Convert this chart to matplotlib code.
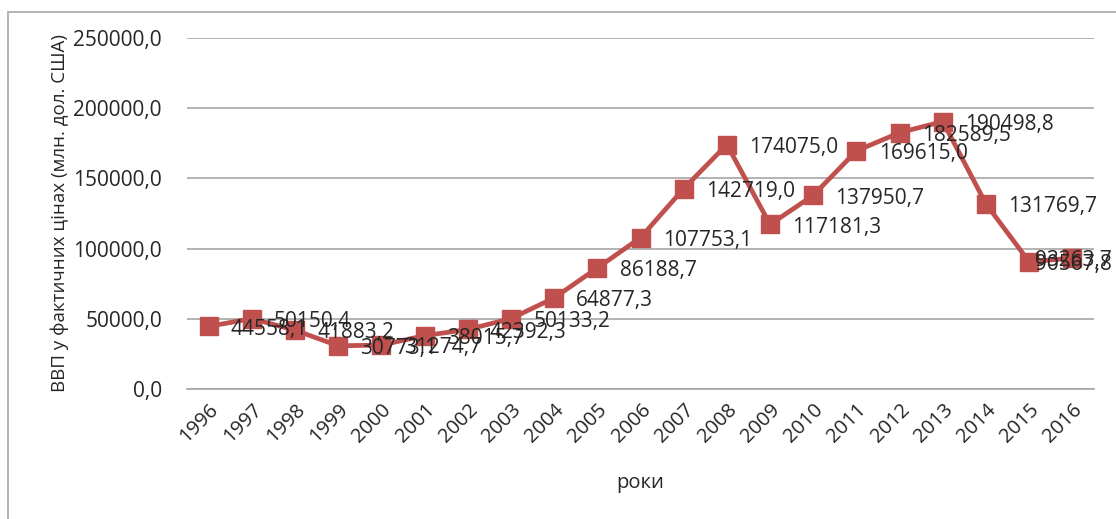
import matplotlib
matplotlib.use("Agg")
import matplotlib.pyplot as plt
from matplotlib.patches import Rectangle
from matplotlib.ticker import FuncFormatter
from matplotlib.transforms import blended_transform_factory

years = ["1996", "1997", "1998", "1999", "2000", "2001", "2002", "2003", "2004", "2005",
         "2006", "2007", "2008", "2009", "2010", "2011", "2012", "2013", "2014", "2015", "2016"]
gdp = [44558.1, 50150.4, 41883.2, 30773.1, 31274.7, 38015.7, 42392.3, 50133.2, 64877.3, 86188.7,
       107753.1, 142719.0, 174075.0, 117181.3, 137950.7, 169615.0, 182589.5, 190498.8, 131769.7, 90567.8, 93263.7]
y_ticks = [0, 50000, 100000, 150000, 200000, 250000]

plt.rcParams['font.family'] = ['Open Sans', 'DejaVu Sans']

W, H = 1116, 519
fig = plt.figure(figsize=(W / 100, H / 100), dpi=100)
ax = fig.add_axes([187 / W, 1 - 389 / H, (1094 - 187) / W, (389 - 38) / H])

color = "#C0504D"
tcol = "#262626"
x = list(range(len(years)))
ax.plot(x, gdp, color=color, lw=3.4, marker="s", markersize=13, zorder=3)

edge_tr = blended_transform_factory(fig.transFigure, ax.transData)
n = len(years)
for xi, v in zip(x, gdp):
    s = f"{v:.1f}".replace(".", ",")
    if xi >= n - 2:
        ax.annotate(s, (1112 / W, v), xycoords=edge_tr, xytext=(0, -2), textcoords="offset points",
                    ha="right", va="center", fontsize=15, color=tcol, zorder=4)
    else:
        ax.annotate(s, (xi, v), xytext=(16, -2), textcoords="offset points",
                    ha="left", va="center", fontsize=15, color=tcol, zorder=4)

ax.set_xlim(-0.5, n - 0.5)
ax.set_ylim(0, 250000)
ax.set_yticks(y_ticks)
ax.yaxis.set_major_formatter(FuncFormatter(lambda v, p: f"{v:.1f}".replace(".", ",")))
ax.set_xticks(x)
ax.set_xticklabels(years, rotation=45, ha="right", rotation_mode="anchor")
ax.tick_params(axis="both", length=0, labelsize=14.5, colors=tcol)
ax.tick_params(axis="y", pad=18, labelsize=15)
ax.tick_params(axis="x", pad=8)
ax.grid(axis="y", color="#A6A6A6", lw=1.2)
ax.set_axisbelow(True)
for s in ["top", "right", "left"]:
    ax.spines[s].set_visible(False)
ax.spines["bottom"].set_color("#A6A6A6")
ax.spines["bottom"].set_linewidth(1.2)

ax.set_ylabel("ВВП у фактичних цінах (млн. дол. США)", fontsize=13.5, color=tcol)
ax.yaxis.set_label_coords(-(187 - 69) / (1094 - 187), 0.5)
ax.set_xlabel("роки", fontsize=14.5, color=tcol)
ax.xaxis.set_label_coords((640 - 187) / (1094 - 187), -(473 - 389) / (389 - 38))

fig.patches.append(Rectangle((8 / W, -0.1), 1.2, 1 - 12 / H + 0.1, transform=fig.transFigure,
                             fill=False, edgecolor="#A6A6A6", lw=1.2))

fig.savefig("out.png", dpi=100)
